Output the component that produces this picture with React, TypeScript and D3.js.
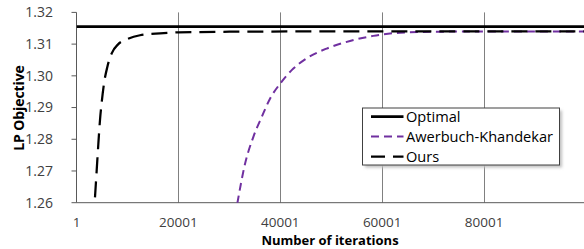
import * as React from "react";
import { select, scaleLinear, line, curveMonotoneX, format } from "d3";

// iterations / LP objective
const optimalValue = 1.3155;

const oursIter = [3630, 3960, 4290, 4610, 4950, 5400, 6050, 6910, 8200, 9850, 12460, 16390, 20060, 30000, 50000, 75000, 100001];
const oursValue = [1.2617, 1.2701, 1.2786, 1.286, 1.2917, 1.2976, 1.3028, 1.3071, 1.31, 1.3115, 1.3128, 1.3134, 1.3137, 1.3139, 1.314, 1.314, 1.314];

const akIter = [31560, 33070, 34700, 36350, 37980, 40000, 42240, 45180, 49100, 53680, 58250, 63500, 70000, 80000, 100001];
const akValue = [1.2597, 1.2722, 1.2807, 1.287, 1.2928, 1.2976, 1.3018, 1.3055, 1.3086, 1.311, 1.3126, 1.3136, 1.3139, 1.314, 1.314];

const xTicks = [1, 20001, 40001, 60001, 80001];
const yTicks = [1.26, 1.27, 1.28, 1.29, 1.3, 1.31, 1.32];

const legendItems = ["Optimal", "Awerbuch-Khandekar", "Ours"];

const WIDTH = 584;
const HEIGHT = 249;
const FONT = "'Open Sans', sans-serif";

function LpChart() {
    const svgRef = React.useRef(null);

    React.useEffect(() => {
        const svg = select(svgRef.current);
        svg.selectAll("*").remove();

        const left = 76.5, right = 586, top = 12.4, bottom = 202.7;

        const xScale = scaleLinear().domain([1, 100001]).range([left, right]);
        const yScale = scaleLinear().domain([1.26, 1.32]).range([bottom, top]);

        const defs = svg.append("defs");
        defs.append("clipPath")
            .attr("id", "plot-clip")
            .append("rect")
            .attr("x", left)
            .attr("y", top)
            .attr("width", WIDTH - left)
            .attr("height", bottom - top);
        defs.append("filter")
            .attr("id", "legend-shadow")
            .append("feGaussianBlur")
            .attr("stdDeviation", 1.5);

        // vertical gridlines
        svg.append("g")
            .selectAll("line")
            .data(xTicks.slice(1))
            .join("line")
            .attr("x1", d => Math.round(xScale(d)) + 0.5)
            .attr("x2", d => Math.round(xScale(d)) + 0.5)
            .attr("y1", top)
            .attr("y2", bottom)
            .attr("stroke", "#808080")
            .attr("stroke-width", 1);

        // y axis
        const yAxis = svg.append("g");
        yAxis.append("line")
            .attr("x1", left).attr("x2", left)
            .attr("y1", top).attr("y2", bottom)
            .attr("stroke", "#595959");
        yAxis.selectAll("line.tick")
            .data(yTicks)
            .join("line")
            .attr("class", "tick")
            .attr("x1", left - 5).attr("x2", left)
            .attr("y1", d => yScale(d)).attr("y2", d => yScale(d))
            .attr("stroke", "#595959");
        yAxis.selectAll("text")
            .data(yTicks)
            .join("text")
            .attr("x", 53)
            .attr("y", d => yScale(d))
            .attr("dy", "0.35em")
            .attr("text-anchor", "end")
            .attr("font-family", FONT)
            .attr("font-size", 14)
            .attr("fill", "#404040")
            .text(d => format(".2f")(d));

        // x axis
        const xAxis = svg.append("g");
        xAxis.append("line")
            .attr("x1", left).attr("x2", WIDTH)
            .attr("y1", bottom).attr("y2", bottom)
            .attr("stroke", "#595959");
        xAxis.selectAll("text")
            .data(xTicks)
            .join("text")
            .attr("x", d => xScale(d))
            .attr("y", 227)
            .attr("text-anchor", "middle")
            .attr("font-family", FONT)
            .attr("font-size", 13.5)
            .attr("fill", "#404040")
            .text(d => String(d));

        // axis titles
        svg.append("text")
            .attr("x", 330)
            .attr("y", 245)
            .attr("text-anchor", "middle")
            .attr("font-family", FONT)
            .attr("font-size", 13)
            .attr("font-weight", "bold")
            .text("Number of iterations");
        svg.append("text")
            .attr("transform", `translate(23.5, 108) rotate(-90)`)
            .attr("text-anchor", "middle")
            .attr("font-family", FONT)
            .attr("font-size", 14)
            .attr("font-weight", "bold")
            .attr("letter-spacing", -0.1)
            .text("LP Objective");

        // series
        const plot = svg.append("g").attr("clip-path", "url(#plot-clip)");
        const lineGen = line<[number, number]>()
            .x(d => xScale(d[0]))
            .y(d => yScale(d[1]))
            .curve(curveMonotoneX);

        plot.append("line")
            .attr("x1", left).attr("x2", WIDTH)
            .attr("y1", yScale(optimalValue)).attr("y2", yScale(optimalValue))
            .attr("stroke", "#000")
            .attr("stroke-width", 2.75);

        plot.append("path")
            .attr("d", lineGen(akIter.map((it, i) => [it, akValue[i]] as [number, number])))
            .attr("fill", "none")
            .attr("stroke", "#7030A0")
            .attr("stroke-width", 2)
            .attr("stroke-dasharray", "8,5");

        plot.append("path")
            .attr("d", lineGen(oursIter.map((it, i) => [it, oursValue[i]] as [number, number])))
            .attr("fill", "none")
            .attr("stroke", "#000")
            .attr("stroke-width", 2.25)
            .attr("stroke-dasharray", "16,8");

        // legend
        const lg = svg.append("g").attr("transform", "translate(362.5, 108)");
        lg.append("rect")
            .attr("x", 2.5).attr("y", 2.5)
            .attr("width", 197).attr("height", 57)
            .attr("fill", "#bfbfbf")
            .attr("filter", "url(#legend-shadow)");
        lg.append("rect")
            .attr("width", 197).attr("height", 57)
            .attr("fill", "#fff")
            .attr("stroke", "#404040")
            .attr("stroke-width", 1);

        const styles = [
            { stroke: "#000", width: 2.75, dash: null },
            { stroke: "#7030A0", width: 2, dash: "8,5" },
            { stroke: "#000", width: 2.25, dash: "14,8" }
        ];
        legendItems.forEach((name, i) => {
            const cy = 8.5 + i * 20;
            const st = styles[i];
            const l = lg.append("line")
                .attr("x1", 8.5).attr("x2", 41)
                .attr("y1", cy).attr("y2", cy)
                .attr("stroke", st.stroke)
                .attr("stroke-width", st.width);
            if (st.dash) l.attr("stroke-dasharray", st.dash);
            lg.append("text")
                .attr("x", 43.5)
                .attr("y", cy)
                .attr("dy", "0.35em")
                .attr("font-family", FONT)
                .attr("font-size", 14.6)
                .attr("fill", "#000")
                .text(name);
        });
    }, []);

    return (
        <div style={{ position: "fixed", left: 0, top: 0 }}>
            <svg ref={svgRef} width={WIDTH} height={HEIGHT} style={{ display: "block", background: "#fff" }} />
        </div>
    );
}

export default function App() {
    return <LpChart />;
}
